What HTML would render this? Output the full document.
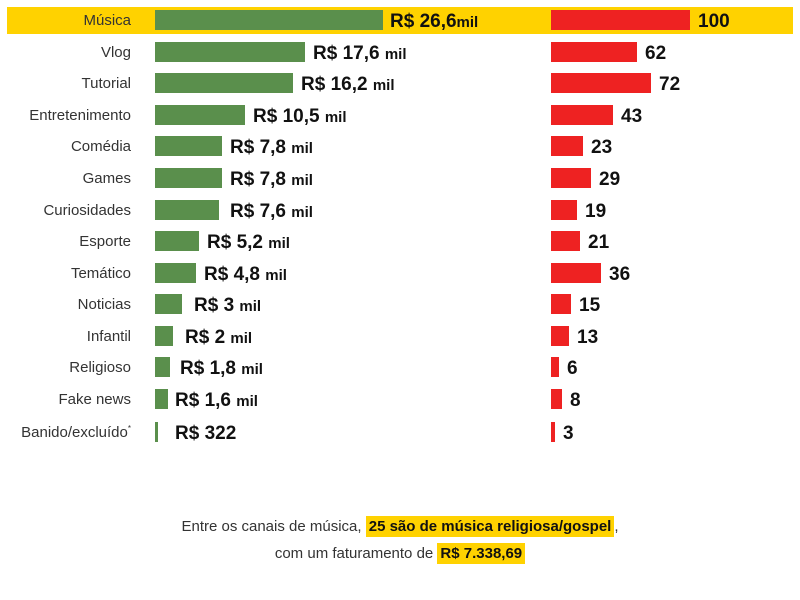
<!DOCTYPE html>
<html><head><meta charset="utf-8"><style>
body{margin:0;width:800px;height:600px;background:#fff;position:relative;font-family:"Liberation Sans",sans-serif;overflow:hidden}
.band{position:absolute;left:7px;top:7px;width:786px;height:27px;background:#ffd200}
.r{position:absolute;height:32px;left:0;width:800px}
.c{position:absolute;right:669px;top:8px;font-size:15px;color:#333;white-space:nowrap}
.g{position:absolute;left:155px;top:6px;height:20px;background:#5a8f4c}
.rb{position:absolute;left:551px;top:6px;height:20px;background:#ee2222}
.v{position:absolute;top:7px;font-size:19px;font-weight:bold;color:#111;white-space:nowrap}
.v small{font-size:15px}
.t{position:absolute;width:800px;text-align:center;font-size:15px;color:#333}
.h{background:#ffd200;font-weight:bold;color:#111;padding:2px 3px}
</style></head><body>
<div class="band"></div>
<div class="r" style="top:4px"><div class="c">Música</div><div class="g" style="width:228px"></div><div class="v" style="left:390px">R$ 26,6<small>mil</small></div><div class="rb" style="width:139px"></div><div class="v" style="left:698px">100</div></div>
<div class="r" style="top:36px"><div class="c">Vlog</div><div class="g" style="width:150px"></div><div class="v" style="left:313px">R$ 17,6 <small>mil</small></div><div class="rb" style="width:86px"></div><div class="v" style="left:645px">62</div></div>
<div class="r" style="top:67px"><div class="c">Tutorial</div><div class="g" style="width:138px"></div><div class="v" style="left:301px">R$ 16,2 <small>mil</small></div><div class="rb" style="width:100px"></div><div class="v" style="left:659px">72</div></div>
<div class="r" style="top:99px"><div class="c">Entretenimento</div><div class="g" style="width:90px"></div><div class="v" style="left:253px">R$ 10,5 <small>mil</small></div><div class="rb" style="width:62px"></div><div class="v" style="left:621px">43</div></div>
<div class="r" style="top:130px"><div class="c">Comédia</div><div class="g" style="width:67px"></div><div class="v" style="left:230px">R$ 7,8 <small>mil</small></div><div class="rb" style="width:32px"></div><div class="v" style="left:591px">23</div></div>
<div class="r" style="top:162px"><div class="c">Games</div><div class="g" style="width:67px"></div><div class="v" style="left:230px">R$ 7,8 <small>mil</small></div><div class="rb" style="width:40px"></div><div class="v" style="left:599px">29</div></div>
<div class="r" style="top:194px"><div class="c">Curiosidades</div><div class="g" style="width:64px"></div><div class="v" style="left:230px">R$ 7,6 <small>mil</small></div><div class="rb" style="width:26px"></div><div class="v" style="left:585px">19</div></div>
<div class="r" style="top:225px"><div class="c">Esporte</div><div class="g" style="width:44px"></div><div class="v" style="left:207px">R$ 5,2 <small>mil</small></div><div class="rb" style="width:29px"></div><div class="v" style="left:588px">21</div></div>
<div class="r" style="top:257px"><div class="c">Temático</div><div class="g" style="width:41px"></div><div class="v" style="left:204px">R$ 4,8 <small>mil</small></div><div class="rb" style="width:50px"></div><div class="v" style="left:609px">36</div></div>
<div class="r" style="top:288px"><div class="c">Noticias</div><div class="g" style="width:27px"></div><div class="v" style="left:194px">R$ 3 <small>mil</small></div><div class="rb" style="width:20px"></div><div class="v" style="left:579px">15</div></div>
<div class="r" style="top:320px"><div class="c">Infantil</div><div class="g" style="width:18px"></div><div class="v" style="left:185px">R$ 2 <small>mil</small></div><div class="rb" style="width:18px"></div><div class="v" style="left:577px">13</div></div>
<div class="r" style="top:351px"><div class="c">Religioso</div><div class="g" style="width:15px"></div><div class="v" style="left:180px">R$ 1,8 <small>mil</small></div><div class="rb" style="width:8px"></div><div class="v" style="left:567px">6</div></div>
<div class="r" style="top:383px"><div class="c">Fake news</div><div class="g" style="width:13px"></div><div class="v" style="left:175px">R$ 1,6 <small>mil</small></div><div class="rb" style="width:11px"></div><div class="v" style="left:570px">8</div></div>
<div class="r" style="top:416px"><div class="c">Banido/excluído<sup style="font-size:8px">*</sup></div><div class="g" style="width:3px"></div><div class="v" style="left:175px">R$ 322</div><div class="rb" style="width:4px"></div><div class="v" style="left:563px">3</div></div>
<div class="t" style="top:518px">Entre os canais de música, <span class="h">25 são de música religiosa/gospel</span>,</div>
<div class="t" style="top:545px">com um faturamento de <span class="h">R$ 7.338,69</span></div>
</body></html>
